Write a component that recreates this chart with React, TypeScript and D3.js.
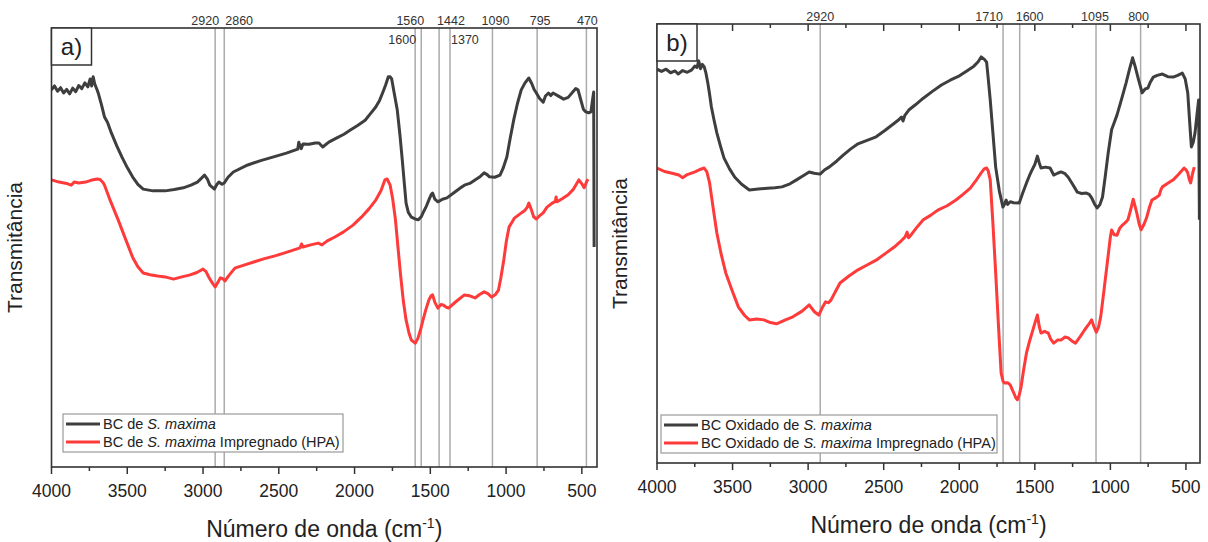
import React from "react";
import * as d3 from "d3";

const FONT = "'Liberation Sans', Arial, Helvetica, sans-serif";

const majorTicks = [4000, 3500, 3000, 2500, 2000, 1500, 1000, 500];
const minorTicks = [3750, 3250, 2750, 2250, 1750, 1250, 750];

const refLinesA = [2920, 2860, 1600, 1560, 1442, 1370, 1090, 795, 470];
const refLinesB = [2920, 1710, 1600, 1095, 800];

const seriesNamesA = ["BC de ", "S. maxima", ""];
const seriesNamesA2 = ["BC de ", "S. maxima", " Impregnado (HPA)"];
const seriesNamesB = ["BC Oxidado de ", "S. maxima", ""];
const seriesNamesB2 = ["BC Oxidado de ", "S. maxima", " Impregnado (HPA)"];

// [wavenumber (cm-1), transmittance (a.u.)]
const aBlack: [number, number][] = [
  [4000, 85.9], [3980, 86.8], [3960, 85.6], [3940, 86.4], [3920, 85.2], [3900, 86.0], [3880, 85.0], [3860, 86.3],
  [3840, 85.5], [3820, 86.9], [3800, 86.2], [3780, 87.5], [3760, 86.6], [3745, 88.4], [3735, 86.8], [3725, 88.9],
  [3715, 87.3], [3700, 86.0], [3690, 85.0], [3670, 82.5], [3650, 79.7], [3630, 78.5], [3605, 76.1], [3570, 73.2],
  [3535, 70.6], [3500, 68.2], [3465, 66.1], [3430, 64.4], [3395, 63.3], [3330, 62.9], [3250, 62.9], [3190, 63.2],
  [3130, 63.6], [3080, 64.2], [3037, 64.9], [3010, 65.8], [2990, 66.5], [2970, 65.5], [2955, 64.2], [2925, 63.3],
  [2910, 64.3], [2895, 64.9], [2875, 64.4], [2860, 64.7], [2835, 66.0], [2800, 67.2], [2705, 68.8], [2620, 69.8],
  [2540, 70.6], [2450, 71.5], [2375, 72.4], [2368, 74.0], [2360, 73.2], [2352, 72.5], [2340, 73.6], [2300, 73.5],
  [2260, 73.8], [2235, 73.8], [2210, 72.9], [2170, 74.0], [2120, 74.9], [2070, 75.8], [2025, 76.8], [1980, 77.8],
  [1930, 79.0], [1895, 80.5], [1860, 82.0], [1835, 83.5], [1815, 85.2], [1795, 87.0], [1777, 88.9], [1765, 88.9],
  [1755, 88.4], [1740, 85.5], [1718, 81.3], [1700, 75.5], [1685, 69.9], [1670, 64.0], [1660, 60.1], [1645, 58.0],
  [1625, 56.9], [1600, 56.5], [1580, 56.3], [1560, 57.0], [1545, 58.1], [1525, 59.5], [1510, 60.8], [1495, 62.0],
  [1485, 62.4], [1470, 61.0], [1450, 60.4], [1420, 61.0], [1390, 61.3], [1340, 62.6], [1300, 63.6], [1275, 64.2],
  [1240, 64.6], [1205, 65.4], [1170, 66.2], [1145, 67.0], [1125, 66.6], [1110, 66.1], [1075, 66.0], [1040, 66.5],
  [1020, 68.0], [995, 70.6], [975, 74.5], [950, 79.0], [925, 82.8], [900, 85.9], [875, 87.5], [850, 88.6],
  [830, 87.3], [815, 86.0], [800, 85.2], [780, 84.0], [755, 83.1], [740, 84.5], [720, 85.2], [705, 84.6],
  [690, 85.2], [660, 84.6], [620, 83.8], [590, 84.2], [560, 85.4], [540, 86.2], [525, 85.9], [510, 84.0],
  [490, 81.5], [475, 80.9], [455, 80.7], [440, 80.9], [430, 83.5], [422, 85.4], [419, 50.1],
];

const aRed: [number, number][] = [
  [4000, 65.4], [3950, 64.9], [3900, 64.6], [3870, 64.2], [3850, 64.9], [3820, 64.7], [3775, 64.9], [3740, 65.3],
  [3700, 65.6], [3680, 65.5], [3660, 64.8], [3650, 64.2], [3610, 60.5], [3560, 56.3], [3510, 51.8], [3465, 47.8],
  [3430, 45.6], [3395, 44.2], [3350, 43.8], [3300, 43.5], [3250, 43.3], [3195, 42.8], [3140, 43.3], [3090, 43.7],
  [3040, 44.3], [3000, 45.1], [2980, 44.5], [2960, 43.1], [2940, 42.0], [2920, 41.0], [2900, 42.2], [2885, 43.1],
  [2870, 42.9], [2855, 42.4], [2830, 43.6], [2790, 45.3], [2730, 46.0], [2665, 46.7], [2600, 47.4], [2525, 48.1],
  [2440, 49.0], [2360, 49.9], [2350, 50.8], [2340, 50.1], [2290, 50.6], [2240, 51.0], [2215, 50.6], [2180, 51.5],
  [2130, 52.4], [2075, 53.5], [2010, 55.1], [1955, 56.9], [1905, 58.8], [1860, 60.8], [1825, 63.0], [1800, 65.4],
  [1785, 65.6], [1765, 64.2], [1748, 61.0], [1730, 56.3], [1712, 49.5], [1695, 43.3], [1678, 37.8], [1660, 33.5],
  [1640, 30.4], [1625, 28.9], [1600, 28.2], [1582, 29.3], [1565, 31.2], [1548, 33.5], [1530, 35.8], [1510, 38.0],
  [1495, 39.0], [1485, 39.2], [1470, 37.5], [1450, 36.2], [1430, 37.0], [1415, 36.9], [1395, 36.4], [1380, 36.2],
  [1330, 37.7], [1275, 39.2], [1240, 39.0], [1205, 38.5], [1175, 39.3], [1145, 39.9], [1120, 39.5], [1095, 38.7],
  [1070, 39.3], [1050, 40.3], [1035, 43.0], [1015, 47.2], [998, 51.5], [980, 54.7], [960, 55.8], [945, 56.7],
  [910, 57.6], [875, 58.5], [860, 59.2], [850, 60.1], [835, 58.8], [818, 57.0], [800, 56.5], [780, 57.2],
  [755, 57.9], [730, 59.2], [700, 60.0], [675, 60.5], [670, 61.5], [665, 60.4], [630, 61.1], [590, 62.0],
  [555, 63.3], [520, 65.4], [500, 64.5], [485, 63.6], [472, 64.7], [460, 65.6],
];

const bBlack: [number, number][] = [
  [4000, 89.7], [3970, 89.2], [3940, 89.7], [3910, 88.9], [3880, 89.3], [3860, 88.6], [3830, 89.4], [3800, 89.0],
  [3772, 89.5], [3750, 90.4], [3735, 90.1], [3724, 91.6], [3712, 89.8], [3700, 90.8], [3688, 90.3], [3676, 88.8],
  [3664, 86.6], [3652, 84.0], [3640, 81.1], [3622, 78.0], [3604, 75.2], [3580, 72.2], [3557, 69.5], [3520, 67.0],
  [3485, 65.1], [3440, 63.5], [3389, 62.2], [3330, 62.4], [3269, 62.6], [3220, 62.7], [3173, 62.9], [3120, 63.6],
  [3077, 64.5], [3030, 65.5], [2993, 66.3], [2960, 66.0], [2921, 65.8], [2890, 66.8], [2861, 67.4], [2810, 68.8],
  [2766, 70.2], [2720, 71.5], [2670, 72.7], [2610, 73.5], [2550, 74.3], [2490, 75.8], [2430, 77.4], [2400, 78.2],
  [2382, 78.8], [2372, 77.9], [2360, 79.2], [2334, 80.4], [2290, 81.6], [2238, 83.1], [2180, 84.6], [2118, 86.1],
  [2060, 87.2], [1999, 88.2], [1950, 89.3], [1903, 90.4], [1875, 91.4], [1855, 92.5], [1835, 92.0], [1819, 91.3],
  [1808, 87.5], [1795, 82.7], [1778, 75.5], [1759, 67.4], [1735, 62.0], [1711, 58.3], [1700, 59.0], [1690, 59.9],
  [1680, 58.9], [1663, 59.5], [1640, 59.3], [1603, 59.2], [1580, 61.5], [1555, 63.8], [1535, 65.5], [1519, 66.7],
  [1500, 68.0], [1483, 69.9], [1470, 68.3], [1459, 67.2], [1430, 67.4], [1399, 67.2], [1375, 65.6], [1350, 66.0],
  [1327, 66.3], [1300, 65.9], [1279, 65.1], [1250, 63.5], [1219, 61.7], [1190, 61.4], [1159, 61.5], [1140, 61.2],
  [1124, 60.4], [1105, 59.0], [1088, 58.1], [1070, 58.8], [1052, 60.6], [1035, 65.0], [1015, 70.5], [992, 75.9],
  [975, 77.5], [956, 79.3], [925, 83.0], [896, 86.6], [875, 89.5], [853, 92.3], [835, 90.2], [813, 87.2],
  [800, 85.6], [790, 84.3], [770, 85.2], [752, 85.4], [735, 86.8], [716, 87.9], [690, 88.3], [656, 88.6],
  [620, 88.0], [584, 87.9], [555, 88.3], [524, 88.8], [505, 87.5], [488, 84.3], [476, 78.0], [464, 72.0],
  [452, 73.0], [440, 75.2], [428, 79.0], [416, 82.7], [411, 55.4],
];

const bRed: [number, number][] = [
  [4000, 67.2], [3950, 66.4], [3900, 66.0], [3856, 65.6], [3830, 65.0], [3800, 65.7], [3748, 66.3], [3720, 66.8],
  [3688, 67.2], [3670, 66.3], [3652, 63.8], [3628, 58.0], [3604, 52.4], [3575, 47.5], [3545, 43.3], [3500, 39.0],
  [3461, 35.5], [3420, 33.6], [3389, 32.6], [3340, 32.8], [3293, 32.6], [3250, 32.0], [3209, 31.7], [3150, 32.6],
  [3101, 33.3], [3040, 34.6], [2993, 36.0], [2975, 35.2], [2957, 34.4], [2929, 33.7], [2905, 35.5], [2885, 36.7],
  [2865, 36.5], [2849, 37.1], [2820, 39.0], [2789, 41.0], [2730, 42.6], [2670, 44.0], [2610, 45.1], [2550, 46.2],
  [2490, 47.7], [2430, 49.2], [2390, 50.4], [2358, 51.5], [2345, 52.6], [2335, 51.3], [2325, 51.7], [2285, 53.5],
  [2238, 55.4], [2190, 56.4], [2142, 57.6], [2080, 58.6], [2022, 59.9], [1975, 61.2], [1927, 62.6], [1890, 64.3],
  [1855, 66.1], [1835, 67.0], [1819, 67.2], [1808, 66.5], [1795, 64.5], [1778, 55.0], [1759, 43.3], [1740, 31.0],
  [1723, 20.5], [1710, 18.6], [1699, 18.2], [1680, 18.3], [1663, 17.8], [1640, 16.0], [1625, 14.8], [1615, 14.4],
  [1603, 15.5], [1591, 17.3], [1575, 21.0], [1555, 25.1], [1537, 27.5], [1519, 29.6], [1500, 31.8], [1483, 33.7],
  [1470, 31.0], [1459, 29.6], [1435, 30.0], [1411, 29.6], [1395, 28.2], [1375, 27.3], [1350, 28.0], [1327, 28.0],
  [1300, 28.7], [1279, 28.5], [1255, 27.8], [1231, 27.3], [1200, 28.8], [1171, 30.3], [1145, 31.5], [1124, 32.6],
  [1108, 31.0], [1093, 29.8], [1078, 31.0], [1064, 33.3], [1040, 40.0], [1016, 46.9], [1000, 51.5], [992, 53.1],
  [975, 52.0], [956, 51.9], [938, 53.5], [920, 54.2], [900, 54.8], [884, 55.4], [865, 57.8], [849, 60.1],
  [837, 58.5], [825, 56.9], [810, 54.5], [797, 53.1], [780, 54.2], [761, 55.8], [742, 58.2], [725, 59.9],
  [700, 60.4], [677, 61.0], [665, 62.3], [656, 62.9], [620, 63.7], [584, 64.5], [550, 65.7], [512, 67.2],
  [500, 66.8], [488, 66.1], [478, 64.6], [469, 63.8], [457, 65.8], [445, 67.4],
];

type LabelPlace = { row: number; anchor: "start" | "middle" | "end"; dx: number };

const placeA: Record<number, LabelPlace> = {
  2920: { row: 0, anchor: "end", dx: 4 },
  2860: { row: 0, anchor: "start", dx: 1 },
  1600: { row: 1, anchor: "end", dx: 1 },
  1560: { row: 0, anchor: "end", dx: 3 },
  1442: { row: 0, anchor: "start", dx: -2 },
  1370: { row: 1, anchor: "start", dx: 1 },
  1090: { row: 0, anchor: "middle", dx: 3 },
  795: { row: 0, anchor: "middle", dx: 3 },
  470: { row: 0, anchor: "middle", dx: 1 },
};
const placeB: Record<number, LabelPlace> = {
  2920: { row: 0, anchor: "middle", dx: 0 },
  1710: { row: 0, anchor: "end", dx: 0 },
  1600: { row: 0, anchor: "start", dx: -4 },
  1095: { row: 0, anchor: "middle", dx: -1 },
  800: { row: 0, anchor: "middle", dx: -2 },
};

type Geo = {
  left: number; right: number; top: number; bottom: number; xEnd: number;
  legendX: number; legendY: number; legendW: number; topTicks: boolean;
};

const BLACK = "#3e3e3e";
const RED = "#ff3a3a";

function LegendText({ parts, x, y }: { parts: string[]; x: number; y: number }) {
  return (
    <text x={x} y={y} fontSize={14.5} fontFamily={FONT} fill="#222">
      <tspan>{parts[0]}</tspan>
      <tspan fontStyle="italic">{parts[1]}</tspan>
      {parts[2] ? <tspan>{parts[2]}</tspan> : null}
    </text>
  );
}

function Panel({
  g, black, red, refs, place, tag, names1, names2, id,
}: {
  g: Geo; black: [number, number][]; red: [number, number][]; refs: number[];
  place: Record<number, LabelPlace>; tag: string; names1: string[]; names2: string[]; id: string;
}) {
  const x = d3.scaleLinear().domain([4000, g.xEnd]).range([g.left, g.right]);
  const y = d3.scaleLinear().domain([0, 100]).range([g.bottom, g.top]);
  const line = d3.line<[number, number]>().x((d) => x(d[0])).y((d) => y(d[1]));
  const cx = (g.left + g.right) / 2;
  const cy = (g.top + g.bottom) / 2;
  return (
    <g>
      <defs>
        <clipPath id={`clip-${id}`}>
          <rect x={g.left} y={g.top} width={g.right - g.left} height={g.bottom - g.top} />
        </clipPath>
      </defs>
      {refs.map((r) => (
        <line key={r} x1={x(r)} x2={x(r)} y1={g.top} y2={g.bottom} stroke="#ababab" strokeWidth={1.5} />
      ))}
      <g clipPath={`url(#clip-${id})`}>
        <path d={line(black) || ""} fill="none" stroke={BLACK} strokeWidth={3} strokeLinejoin="round" />
        <path d={line(red) || ""} fill="none" stroke={RED} strokeWidth={3} strokeLinejoin="round" />
      </g>
      <rect x={g.left} y={g.top} width={g.right - g.left} height={g.bottom - g.top} fill="none" stroke="#333" strokeWidth={1.6} />
      {majorTicks.map((t) => (
        <g key={`M${t}`}>
          <line x1={x(t)} x2={x(t)} y1={g.bottom} y2={g.bottom + 7} stroke="#333" strokeWidth={1.5} />
          <text x={x(t)} y={g.bottom + 30} textAnchor="middle" fontSize={17.5} fontFamily={FONT} fill="#222">{t}</text>
        </g>
      ))}
      {minorTicks.map((t) => (
        <line key={`m${t}`} x1={x(t)} x2={x(t)} y1={g.bottom} y2={g.bottom + 4} stroke="#333" strokeWidth={1.5} />
      ))}
      {g.topTicks && majorTicks.filter((t) => t < 4000).map((t) => (
        <line key={`tM${t}`} x1={x(t)} x2={x(t)} y1={g.top} y2={g.top + 7} stroke="#333" strokeWidth={1.5} />
      ))}
      {g.topTicks && minorTicks.map((t) => (
        <line key={`tm${t}`} x1={x(t)} x2={x(t)} y1={g.top} y2={g.top + 4} stroke="#333" strokeWidth={1.5} />
      ))}
      {refs.map((r) => {
        const p = place[r];
        return (
          <text key={`l${r}`} x={x(r) + p.dx} y={p.row === 0 ? g.top - 3 : g.top + 16} textAnchor={p.anchor}
            fontSize={12.5} fontFamily={FONT} fill="#333">{r}</text>
        );
      })}
      <rect x={g.left} y={g.top} width={40} height={37} fill="#fff" stroke="#333" strokeWidth={1.5} />
      <text x={g.left + 20} y={g.top + 27} textAnchor="middle" fontSize={24} fontFamily={FONT} fill="#222">{tag}</text>
      <rect x={g.legendX} y={g.legendY} width={g.legendW} height={38} fill="#fff" stroke="#9a9a9a" strokeWidth={1.2} />
      <line x1={g.legendX + 3} x2={g.legendX + 37} y1={g.legendY + 10} y2={g.legendY + 10} stroke={BLACK} strokeWidth={3} />
      <LegendText parts={names1} x={g.legendX + 40} y={g.legendY + 15} />
      <line x1={g.legendX + 3} x2={g.legendX + 37} y1={g.legendY + 28} y2={g.legendY + 28} stroke={RED} strokeWidth={3} />
      <LegendText parts={names2} x={g.legendX + 40} y={g.legendY + 33} />
      <text x={cx} y={g.bottom + 70} textAnchor="middle" fontSize={23} fontFamily={FONT} fill="#222">
        Número de onda (cm<tspan dy={-9} fontSize={14}>-1</tspan><tspan dy={9}>)</tspan>
      </text>
      <text transform={`translate(${g.left - 30},${cy}) rotate(-90)`} textAnchor="middle" fontSize={21} fontFamily={FONT} fill="#222">
        Transmitância
      </text>
    </g>
  );
}

export default function App() {
  const geoA: Geo = { left: 51.5, right: 597, top: 28, bottom: 467, xEnd: 400, legendX: 63, legendY: 414, legendW: 280, topTicks: false };
  const geoB: Geo = { left: 657, right: 1200, top: 24, bottom: 463, xEnd: 407, legendX: 661, legendY: 415, legendW: 336, topTicks: true };
  return (
    <svg width={1208} height={542} style={{ position: "absolute", left: 0, top: 0, background: "#fff" }}>
      <rect x={0} y={0} width={1208} height={542} fill="#fff" />
      <Panel g={geoA} black={aBlack} red={aRed} refs={refLinesA} place={placeA} tag="a)" names1={seriesNamesA} names2={seriesNamesA2} id="a" />
      <Panel g={geoB} black={bBlack} red={bRed} refs={refLinesB} place={placeB} tag="b)" names1={seriesNamesB} names2={seriesNamesB2} id="b" />
    </svg>
  );
}
